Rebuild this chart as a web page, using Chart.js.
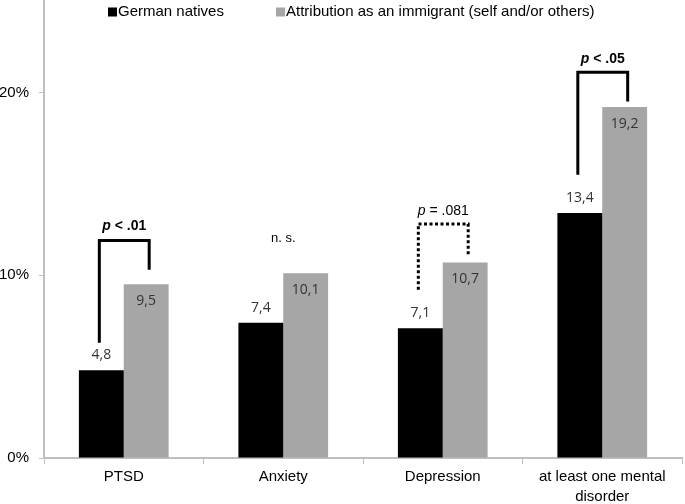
<!DOCTYPE html>
<html>
<head>
<meta charset="utf-8">
<script src="https://cdn.jsdelivr.net/npm/chart.js@4/dist/chart.umd.min.js"></script>
<style>
  html, body { margin: 0; padding: 0; background: #fff; }
  #wrap { width: 685px; height: 504px; }
</style>
</head>
<body>
<div id="wrap"><canvas id="c" width="685" height="504"></canvas></div>
<script>
const categories = ['PTSD', 'Anxiety', 'Depression', ['at least one mental', 'disorder']];
const seriesNames = ['German natives', 'Attribution as an immigrant (self and/or others)'];
const germanNatives = [4.8, 7.4, 7.1, 13.4];
const immigrants = [9.5, 10.1, 10.7, 19.2];
const yTicks = [0, 10, 20];
const sigLabels = ['p < .01', 'n. s.', 'p = .081', 'p < .05'];

const fmt = v => v.toFixed(1).replace('.', ',');

const annotationPlugin = {
  id: 'annot',
  afterDatasetsDraw(chart, args, opts) {
    const ctx = chart.ctx;
    const y = chart.scales.y;
    const m0 = chart.getDatasetMeta(0).data;
    const m1 = chart.getDatasetMeta(1).data;
    ctx.save();
    ctx.font = '14px "Open Sans"';
    ctx.fillStyle = '#333';
    ctx.textAlign = 'center';
    ctx.textBaseline = 'middle';
    germanNatives.forEach((v, i) => {
      ctx.fillText(fmt(v), m0[i].x, m0[i].y - 15);
    });
    immigrants.forEach((v, i) => {
      ctx.fillText(fmt(v), m1[i].x, m1[i].y + 17);
    });
    opts.brackets.forEach((b, i) => {
      const xL = m0[i].x - 2;
      const xR = m1[i].x + 3;
      const xc = (xL + xR) / 2;
      if (b.top != null) {
        ctx.beginPath();
        ctx.lineWidth = 3;
        ctx.strokeStyle = '#000';
        ctx.lineCap = 'butt';
        ctx.lineJoin = 'miter';
        if (b.dotted) ctx.setLineDash([3, 2.5]); else ctx.setLineDash([]);
        ctx.moveTo(xL, y.getPixelForValue(b.left));
        ctx.lineTo(xL, y.getPixelForValue(b.top));
        ctx.lineTo(xR, y.getPixelForValue(b.top));
        ctx.lineTo(xR, y.getPixelForValue(b.right));
        ctx.stroke();
        ctx.setLineDash([]);
      }
      const ty = y.getPixelForValue(b.text);
      const label = sigLabels[i];
      ctx.fillStyle = '#000';
      ctx.textBaseline = 'middle';
      if (label.startsWith('p')) {
        const weight = b.bold ? 'bold ' : '';
        const pFont = 'italic ' + weight + '14px "Liberation Sans"';
        const rFont = weight + '14px "Liberation Sans"';
        const rest = label.slice(1);
        ctx.font = pFont; const wp = ctx.measureText('p').width;
        ctx.font = rFont; const wr = ctx.measureText(rest).width;
        const x0 = xc - (wp + wr) / 2;
        ctx.textAlign = 'left';
        ctx.font = pFont; ctx.fillText('p', x0, ty);
        ctx.font = rFont; ctx.fillText(rest, x0 + wp, ty);
      } else {
        ctx.font = '13px "Liberation Sans"';
        ctx.textAlign = 'center';
        ctx.fillText(label, (m0[i].x + m1[i].x) / 2, ty);
      }
    });
    ctx.restore();
  }
};

const legendPlugin = {
  id: 'customLegend',
  afterDraw(chart, args, opts) {
    const ctx = chart.ctx;
    ctx.save();
    ctx.font = '15px "Liberation Sans"';
    ctx.textBaseline = 'middle';
    ctx.textAlign = 'left';
    chart.data.datasets.forEach((ds, i) => {
      const x = opts.xs[i];
      ctx.fillStyle = ds.backgroundColor;
      ctx.fillRect(x, opts.y - 4.5, 9, 9);
      ctx.fillStyle = '#000';
      ctx.fillText(ds.label, x + 10, opts.y);
    });
    ctx.restore();
  }
};

new Chart(document.getElementById('c'), {
  type: 'bar',
  data: {
    labels: categories,
    datasets: [
      { label: seriesNames[0], data: germanNatives, backgroundColor: '#000000' },
      { label: seriesNames[1], data: immigrants, backgroundColor: '#a6a6a6' }
    ]
  },
  options: {
    responsive: false,
    animation: false,
    events: [],
    layout: { padding: { top: 1, right: 3, left: 0, bottom: 0 } },
    datasets: { bar: { categoryPercentage: 0.5625, barPercentage: 1.0 } },
    plugins: {
      legend: { display: false },
      tooltip: { enabled: false },
      customLegend: { xs: [108, 276], y: 12 },
      annot: {
        brackets: [
          { left: 6.3, top: 11.9, right: 10.3, text: 12.7, bold: true },
          { left: null, top: null, right: null, text: 12.0 },
          { left: 9.2, top: 12.8, right: 11.1, text: 13.5, dotted: true },
          { left: 15.5, top: 21.1, right: 19.5, text: 21.8, bold: true }
        ]
      }
    },
    scales: {
      x: {
        grid: { offset: true, drawOnChartArea: false, drawTicks: true, tickLength: 6, color: '#bfbfbf' },
        border: { color: '#bfbfbf', width: 2 },
        ticks: { color: '#000', font: { family: 'Liberation Sans', size: 15, lineHeight: 1.33 }, padding: 3, maxRotation: 0, autoSkip: false },
        afterFit(scale) { scale.height = 46; scale.paddingLeft = 0; scale.paddingRight = 0; }
      },
      y: {
        min: 0, max: 25,
        grid: { drawOnChartArea: false, drawTicks: true, tickLength: 5, color: '#bfbfbf' },
        border: { color: '#bfbfbf', width: 2 },
        afterBuildTicks(scale) { scale.ticks = yTicks.map(v => ({ value: v })); },
        ticks: { color: '#000', font: { family: 'Liberation Sans', size: 15 }, padding: 10, callback: v => v + '%' },
        afterFit(scale) { scale.width = 44; scale.paddingTop = 0; scale.paddingBottom = 0; }
      }
    }
  },
  plugins: [annotationPlugin, legendPlugin]
});
</script>
</body>
</html>
